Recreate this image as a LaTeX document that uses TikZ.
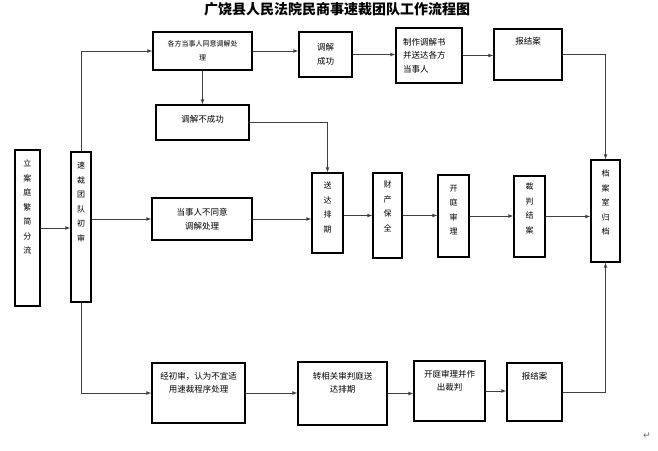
\documentclass[tikz,border=0pt]{standalone}
\usepackage{fontspec}
\usepackage{tikz}
\usetikzlibrary{arrows,positioning}
\newfontfamily\cjk{Noto Sans CJK SC}
\newfontfamily\symfont{DejaVu Sans}
% box contents: width, height, top pad, text
\newcommand{\toptxt}[4]{\parbox[c][#2pt][t]{#1pt}{\centering\vspace*{#3pt}#4}}
\newcommand{\midtxt}[3]{\parbox[c][#2pt][c]{#1pt}{\centering #3}}

\begin{document}
\begin{tikzpicture}[x=1pt, y=-1pt,
            box/.style={draw=black, line width=1.4pt, inner sep=0pt, font=\cjk\fontsize{8.5}{13.5}\selectfont},
            vbox/.style={box, font=\cjk\fontsize{8}{14.5}\selectfont},
            arrow/.style={-latex, line width=0.7pt, color=black!75}
        ]
            \useasboundingbox (0,0) rectangle (658,450);

            % Title
            \node[font=\cjk\bfseries\fontsize{14}{16}\selectfont] (title) at (337,9) {广饶县人民法院民商事速裁团队工作流程图};

            % Left column
            \node[vbox] (lian) at (27.5,228) {\toptxt{25}{156}{10}{立\\案\\庭\\繁\\简\\分\\流}};
            \node[vbox] (sucai) at (81,227) {\toptxt{20}{150}{10}{速\\裁\\团\\队\\初\\审}};

            % Upper row (mediation agreed)
            \node[box, font=\cjk\fontsize{7}{14}\selectfont] (tongyi) at (202.5,51) {\midtxt{99}{38}{各方当事人同意调解处\\理}};
            \node[box] (chenggong) at (325.5,54.5) {\midtxt{53}{45}{调解\\成功}};
            \node[box] (zhizuo) at (429,55.5) {\parbox[c][55pt][c]{66pt}{\leftskip=7pt 制作调解书\\并送达各方\\当事人}};
            \node[box] (baojie1) at (528,54.5) {\toptxt{68}{51}{8}{报结案}};
            \node[box] (fail) at (202.5,122.5) {\toptxt{93}{35}{10}{调解不成功}};

            % Middle row (mediation refused)
            \node[box] (butongyi) at (202,219) {\midtxt{100}{42}{当事人不同意\\调解处理}};
            \node[vbox] (songda) at (327.5,213) {\toptxt{31}{80}{9}{送\\达\\排\\期}};
            \node[vbox] (baoquan) at (387.5,215.5) {\toptxt{29}{85}{8}{财\\产\\保\\全}};
            \node[vbox] (kaiting) at (453.5,216) {\toptxt{31}{82}{10}{开\\庭\\审\\理}};
            \node[vbox] (caipan) at (529.5,216.5) {\toptxt{31}{81}{7}{裁\\判\\结\\案}};
            \node[vbox] (dangan) at (605.5,211) {\toptxt{29}{102}{10}{档\\案\\室\\归\\档}};

            % Lower row (not suited for fast track)
            \node[box] (buyi) at (198.5,393) {\toptxt{93}{60}{9}{经初审，认为不宜适\\用速裁程序处理}};
            \node[box] (zhuan) at (342.5,393.5) {\toptxt{89}{63}{10}{转相关审判庭送\\达排期}};
            \node[box] (kaiting2) at (449.5,391) {\toptxt{71}{60}{9}{开庭审理并作\\出裁判}};
            \node[box] (baojie2) at (534.5,392) {\toptxt{55}{58}{9}{报结案}};

            \node[font=\symfont\fontsize{9}{9}\selectfont, text=black!60] (retmark) at (647,436) {↵};

            % Arrows
            \draw[arrow] (lian.east) -- (lian.east -| sucai.west);
            \draw[arrow] (sucai.north) |- (tongyi.west);
            \draw[arrow] (sucai.east |- butongyi.west) -- (butongyi.west);
            \draw[arrow] (sucai.south) |- (buyi.west);

            \draw[arrow] (tongyi.east) -- (tongyi.east -| chenggong.west);
            \draw[arrow] (chenggong.east) -- (chenggong.east -| zhizuo.west);
            \draw[arrow] (zhizuo.east) -- (zhizuo.east -| baojie1.west);
            \draw[arrow] (baojie1.east) -| (dangan.north);
            \draw[arrow] (tongyi.south) -- (fail.north);
            \draw[arrow] (fail.east) -| (songda.north);

            \draw[arrow] (butongyi.east) -- (butongyi.east -| songda.west);
            \draw[arrow] (baoquan.west -| songda.east) -- (baoquan.west);
            \draw[arrow] (baoquan.east) -- (baoquan.east -| kaiting.west);
            \draw[arrow] (kaiting.east) -- (kaiting.east -| caipan.west);
            \draw[arrow] (caipan.east) -- (caipan.east -| dangan.west);

            \draw[arrow] (buyi.east) -- (buyi.east -| zhuan.west);
            \draw[arrow] (zhuan.east) -- (zhuan.east -| kaiting2.west);
            \draw[arrow] (kaiting2.east) -- (kaiting2.east -| baojie2.west);
            \draw[arrow] (baojie2.east) -| (dangan.south);
        \end{tikzpicture}
\end{document}
